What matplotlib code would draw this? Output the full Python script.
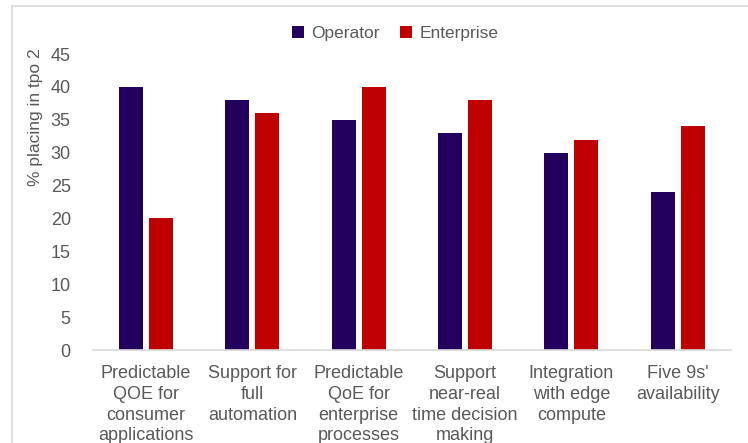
import numpy as np
import matplotlib.pyplot as plt
from matplotlib.lines import Line2D

# 数据
categories = ['Predictable\nQOE for\nconsumer\napplications',
              'Support for\nfull\nautomation',
              'Predictable\nQoE for\nenterprise\nprocesses',
              'Support\nnear-real\ntime decision\nmaking',
              'Integration\nwith edge\ncompute',
              "Five 9s'\navailability"]
operator = [40, 38, 35, 33, 30, 24]
enterprise = [20, 36, 40, 38, 32, 34]
y_ticks = [0, 5, 10, 15, 20, 25, 30, 35, 40, 45]

COLOR_OPERATOR = '#24005E'
COLOR_ENTERPRISE = '#BE0000'
COLOR_TEXT = '#595959'
COLOR_LINE = '#D9D9D9'

plt.rcParams['font.family'] = ['Liberation Sans', 'DejaVu Sans']

fig = plt.figure(figsize=(7.48, 4.43), dpi=100)
ax = fig.add_axes([0.1243, 0.2099, 0.977 - 0.1243, 0.878 - 0.2099])

x = np.arange(len(categories))
w = 0.226
off = 0.141
ax.bar(x - off, operator, w, color=COLOR_OPERATOR, label='Operator')
ax.bar(x + off, enterprise, w, color=COLOR_ENTERPRISE, label='Enterprise')

ax.set_xlim(-0.5, len(categories) - 0.5)
ax.set_ylim(0, 45)
ax.set_yticks(y_ticks)
ax.set_xticks(x)
ax.set_xticklabels(categories, fontsize=13, color=COLOR_TEXT, linespacing=1.28)
ax.tick_params(axis='y', labelsize=13, labelcolor=COLOR_TEXT, length=0, pad=16)
ax.tick_params(axis='x', length=0, pad=11)

for s in ['top', 'right', 'left']:
    ax.spines[s].set_visible(False)
ax.spines['bottom'].set_color(COLOR_LINE)
ax.spines['bottom'].set_linewidth(1.2)

ax.set_ylabel('% placing in tpo 2', fontsize=12.5, color=COLOR_TEXT)
ax.yaxis.set_label_coords(-0.078, 0.785)

ax.legend(loc='center', bbox_to_anchor=(395 / 748, 1 - 33.5 / 443),
          bbox_transform=fig.transFigure, ncol=2, frameon=False,
          fontsize=12.5, labelcolor=COLOR_TEXT, handlelength=0.7,
          handleheight=0.7, handletextpad=0.4, columnspacing=1.2)

# 图表外框（上、左）
fig.add_artist(Line2D([12 / 748, 12 / 748], [0, 1 - 6 / 443],
                      transform=fig.transFigure, color=COLOR_LINE, lw=1.2))
fig.add_artist(Line2D([12 / 748, 1], [1 - 6 / 443, 1 - 6 / 443],
                      transform=fig.transFigure, color=COLOR_LINE, lw=1.2))

plt.savefig('out.png', dpi=100, facecolor='white')
